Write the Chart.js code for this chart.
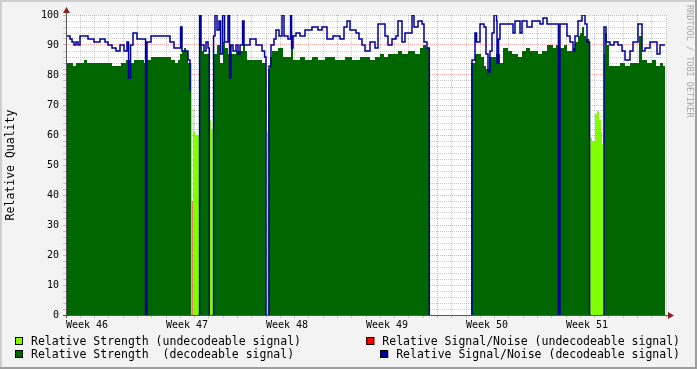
<!DOCTYPE html>
<html>
<head>
<meta charset="utf-8">
<script src="https://cdn.jsdelivr.net/npm/chart.js"></script>
<style>
html, body { margin: 0; padding: 0; background: #f3f3f3; overflow: hidden; }
canvas { display: block; }
</style>
</head>
<body>
<canvas id="chart" width="697" height="369"></canvas>
<script>
// ---------------- data (x = days since start of Week 46, y = relative quality %) ----------------
const weekLabels = ['Week 46', 'Week 47', 'Week 48', 'Week 49', 'Week 50', 'Week 51'];
const seriesNames = [
  'Relative Strength (undecodeable signal)',
  'Relative Signal/Noise (undecodeable signal)',
  'Relative Strength  (decodeable signal)',
  'Relative Signal/Noise (decodeable signal)'
];
const watermark = 'RRDTOOL / TOBI OETIKER';
const yTitle = 'Relative Quality';

// Relative Strength (decodeable signal) – step breakpoints (value holds until next day), null = no data
const strengthDecDay = [
  0, 0.49, 0.70, 1.26, 1.47, 3.22, 3.85, 4.20, 4.55, 4.76, 5.46, 5.67, 5.95, 7.35, 7.63, 7.84, 7.98, 8.12, 8.26, 8.40, 8.54, 8.79, 8.80,
  9.38, 9.52, 9.66, 10.01, 10.02,
  10.29, 10.57, 10.78, 10.99, 11.13, 11.34, 11.90, 12.39, 12.53, 12.67, 13.72, 14.00, 14.01,
  14.14, 14.28, 14.42, 14.84, 15.19, 15.75, 15.89, 16.38, 16.73, 17.22, 17.64, 18.13, 18.83, 19.53, 20.02, 20.58, 21.28, 21.63, 21.98, 22.26, 22.54, 23.24, 23.52, 23.94, 24.43, 24.78, 24.99, 25.20, 25.48, 25.49,
  28.35, 28.63, 29.05, 29.26, 29.40, 29.61, 30.10, 30.38, 30.59, 30.94, 31.22, 31.64, 31.92, 32.20, 32.48, 33.04, 33.32, 33.67, 34.09, 34.30, 34.58, 34.86, 35.07, 35.49, 35.63, 35.84, 35.98, 36.12, 36.26, 36.40, 36.65, 36.66,
  37.63, 37.73, 37.87, 38.01, 38.78, 39.13, 39.48, 40.11, 40.32, 40.67, 41.02, 41.30, 41.58, 41.79, 41.93
];
const strengthDecVal = [
  84, 83, 84, 85, 84, 83, 84, 85, 84, 85, 84, 85, 86, 85, 84, 85, 87, 88, 89, 88, 84, 84, null,
  90, 88, 87, 87, null,
  87, 90, 84, 91, 89, 87, 88, 90, 88, 85, 84, 84, null,
  82, 86, 88, 89, 86, 91, 85, 86, 85, 86, 85, 86, 85, 86, 85, 86, 85, 86, 87, 86, 87, 88, 87, 88, 87, 89, 90, 89, 89, null,
  84, 87, 86, 83, 82, 86, 87, 84, 89, 88, 87, 86, 88, 89, 88, 87, 88, 90, 89, 90, 89, 90, 88, 89, 91, 93, 94, 96, 93, 92, 92, null,
  87, 94, 90, 83, 84, 83, 84, 93, 85, 84, 85, 83, 84, 83, 83
];

// Relative Strength (undecodeable signal)
const strengthUndecDay = [8.86, 8.93, 9.07, 9.31, 9.32, 10.06, 10.15, 10.29, 10.30, 14.07, 14.18, 14.19, 36.68, 36.82, 37.03, 37.17, 37.31, 37.45, 37.52, 37.59];
const strengthUndecVal = [69, 61, 60, 60, null, 65, 62, 62, null, 61, 61, null, 59, 58, 67, 68, 65, 61, 57, 57];

// Relative Signal/Noise (undecodeable signal)
const snrUndecDay = [8.80, 8.87];
const snrUndecVal = [38, 38];

// Relative Signal/Noise (decodeable signal)
const snrDecDay = [
  0, 0.28, 0.42, 0.56, 0.70, 0.84, 0.98, 1.54, 1.96, 2.38, 2.73, 2.94, 3.22, 3.50, 3.78, 4.06, 4.27, 4.38, 4.52, 4.69, 4.97, 5.57, 5.67, 5.95, 7.28, 7.56, 8.02, 8.12, 8.54, 8.68, 8.75, 8.76,
  9.28, 9.35, 9.45, 9.66, 9.80, 9.94, 10.03, 10.08, 10.09,
  10.26, 10.33, 10.43, 10.57, 10.71, 10.82, 10.96, 11.10, 11.34, 11.45, 11.55, 11.69, 11.90, 12.04, 12.18, 12.36, 12.46, 12.88, 13.30, 13.72, 13.90, 14.00, 14.07, 14.08,
  14.14, 14.21, 14.35, 14.56, 14.70, 14.91, 15.12, 15.26, 15.54, 15.72, 15.79, 15.89, 16.10, 16.38, 16.73, 17.22, 17.64, 17.92, 18.27, 18.69, 19.18, 19.46, 19.67, 19.88, 20.30, 20.51, 20.72, 20.93, 21.28, 21.63, 21.84, 22.33, 22.54, 22.82, 23.10, 23.24, 23.52, 23.73, 24.22, 24.36, 24.64, 24.92, 25.06, 25.27, 25.43, 25.48, 25.49,
  28.35, 28.42, 28.63, 28.74, 28.98, 29.26, 29.40, 29.54, 29.68, 29.82, 29.96, 30.14, 30.17, 30.28, 30.38, 31.29, 31.43, 31.78, 31.92, 32.27, 32.62, 33.18, 33.39, 33.67, 34.47, 34.58, 35.07, 35.28, 35.49, 35.63, 35.84, 36.12, 36.33, 36.47, 36.65, 36.72, 36.73,
  37.59, 37.66, 37.80, 38.08, 38.36, 38.64, 38.92, 39.13, 39.48, 39.69, 40.04, 40.32, 40.53, 40.88, 41.37, 41.58, 41.93
];
const snrDecVal = [
  93, 92, 91, 90, 91, 90, 93, 92, 91, 92, 91, 90, 89, 88, 90, 88, 91, 79, 90, 94, 92, 0, 91, 93, 91, 89, 96, 88, 85, 75, 75, null,
  0, 100, 90, 88, 91, 89, 0, 0, null,
  0, 93, 100, 95, 98, 87, 100, 91, 100, 79, 90, 88, 90, 87, 90, 98, 90, 92, 90, 88, 86, 0, 0, null,
  0, 83, 90, 92, 95, 93, 100, 93, 92, 100, 89, 93, 94, 93, 95, 96, 95, 96, 92, 93, 92, 96, 98, 95, 94, 92, 90, 88, 91, 89, 97, 93, 90, 92, 93, 98, 91, 94, 100, 96, 98, 97, 91, 89, 0, 0, null,
  0, 85, 94, 91, 97, 96, 87, 81, 88, 94, 100, 98, 84, 92, 97, 94, 98, 94, 98, 96, 98, 97, 99, 97, 0, 97, 93, 91, 88, 93, 98, 100, 97, 91, 0, 0, null,
  0, 96, 91, 90, 91, 90, 88, 85, 88, 91, 97, 88, 89, 91, 87, 90, 90
];

// ---------------- styling ----------------
const FONT = '"DejaVu Sans Mono", monospace';
const COL = { lightGreen: '#80ff00', red: '#ff0000', darkGreen: '#006600', navy: '#000099' };
const GRID = 'rgba(128,128,128,0.42)';
const MGRID = 'rgba(222,48,48,0.42)';

const pts = (days, vals) => days.map((d, i) => ({ x: d, y: vals[i] }));

const rrdPlugin = {
  id: 'rrd',
  beforeDraw(chart) {
    const { ctx, chartArea: a, width, height } = chart;
    ctx.save();
    ctx.fillStyle = '#f3f3f3';
    ctx.fillRect(0, 0, width, height);
    ctx.fillStyle = '#cfcfcf';
    ctx.fillRect(0, 0, width, 2);
    ctx.fillRect(0, 0, 2, height);
    ctx.fillStyle = '#9e9e9e';
    ctx.fillRect(0, height - 2, width, 2);
    ctx.fillRect(width - 2, 0, 2, height);
    ctx.fillStyle = '#ffffff';
    ctx.fillRect(a.left, a.top, a.right - a.left, a.bottom - a.top);
    ctx.restore();
  },
  afterDraw(chart) {
    const { ctx, chartArea: a } = chart;
    ctx.save();
    // axes
    ctx.strokeStyle = '#555555';
    ctx.lineWidth = 1;
    ctx.beginPath();
    ctx.moveTo(a.left + 0.5, a.bottom + 3);
    ctx.lineTo(a.left + 0.5, a.top - 6);
    ctx.moveTo(a.left - 3, a.bottom + 0.5);
    ctx.lineTo(a.right + 4, a.bottom + 0.5);
    ctx.stroke();
    // arrows
    ctx.fillStyle = '#8e2020';
    ctx.beginPath();
    ctx.moveTo(a.left + 0.5, a.top - 8);
    ctx.lineTo(a.left - 3, a.top - 2);
    ctx.lineTo(a.left + 4, a.top - 2);
    ctx.closePath();
    ctx.fill();
    ctx.beginPath();
    ctx.moveTo(a.right + 8, a.bottom + 0.5);
    ctx.lineTo(a.right + 2, a.bottom - 3);
    ctx.lineTo(a.right + 2, a.bottom + 4);
    ctx.closePath();
    ctx.fill();

    // legend
    ctx.font = '11.5px ' + FONT;
    ctx.textBaseline = 'alphabetic';
    ctx.fillStyle = '#000';
    const rows = [345, 358];
    const items = [
      { name: seriesNames[0], color: COL.lightGreen, col: 0, row: 0 },
      { name: seriesNames[1], color: COL.red, col: 1, row: 0 },
      { name: seriesNames[2], color: COL.darkGreen, col: 0, row: 1 },
      { name: seriesNames[3], color: COL.navy, col: 1, row: 1 }
    ];
    items.forEach(it => {
      const w = ctx.measureText(it.name).width;
      const tx = it.col === 0 ? 31 : 680 - w;
      const by = rows[it.row] - 8;
      const bx = tx - 16;
      ctx.fillStyle = it.color;
      ctx.fillRect(bx, by, 8, 8);
      ctx.strokeStyle = '#000';
      ctx.lineWidth = 1;
      ctx.strokeRect(bx + 0.5, by + 0.5, 7, 7);
      ctx.fillStyle = '#000';
      ctx.textAlign = 'left';
      ctx.fillText(it.name, tx, rows[it.row]);
    });

    // watermark
    ctx.translate(689, 5);
    ctx.rotate(Math.PI / 2);
    ctx.font = '8.5px ' + FONT;
    ctx.fillStyle = '#a8a8a8';
    ctx.textAlign = 'left';
    ctx.textBaseline = 'middle';
    ctx.fillText(watermark, 0, 0);
    ctx.restore();
  }
};

Chart.defaults.font.family = FONT;
Chart.defaults.color = '#000';

new Chart(document.getElementById('chart'), {
  type: 'line',
  data: {
    datasets: [
      { label: seriesNames[3], data: pts(snrDecDay, snrDecVal), stepped: 'before', fill: false,
        borderColor: COL.navy, borderWidth: 1.5, pointRadius: 0, order: 0 },
      { label: seriesNames[1], data: pts(snrUndecDay, snrUndecVal), stepped: 'before', fill: 'origin',
        backgroundColor: COL.red, borderColor: 'rgba(0,0,0,0)', borderWidth: 0, pointRadius: 0, order: 1 },
      { label: seriesNames[0], data: pts(strengthUndecDay, strengthUndecVal), stepped: 'before', fill: 'origin',
        backgroundColor: COL.lightGreen, borderColor: 'rgba(0,0,0,0)', borderWidth: 0, pointRadius: 0, order: 2 },
      { label: seriesNames[2], data: pts(strengthDecDay, strengthDecVal), stepped: 'before', fill: 'origin',
        backgroundColor: COL.darkGreen, borderColor: 'rgba(0,0,0,0)', borderWidth: 0, pointRadius: 0, order: 3 }
    ]
  },
  options: {
    responsive: false,
    animation: false,
    devicePixelRatio: 1,
    events: [],
    spanGaps: false,
    layout: { padding: { left: 0, top: 15, right: 31, bottom: 34 } },
    plugins: { legend: { display: false }, tooltip: { enabled: false } },
    scales: {
      x: {
        type: 'linear', min: 0, max: 42, z: 1,
        afterFit: s => { s.height = 20; },
        border: { display: false, dash: [1, 1] },
        grid: {
          color: c => (Math.round(c.tick.value) % 7 === 5 ? MGRID : GRID),
          tickLength: 3, lineWidth: 1
        },
        ticks: {
          stepSize: 1, autoSkip: false, maxRotation: 0, minRotation: 0, align: 'start', padding: 1,
          font: { size: 10, family: FONT },
          callback: v => {
            const d = Math.round(v);
            return (d % 7 === 0 && d / 7 < weekLabels.length) ? weekLabels[d / 7] : '';
          }
        }
      },
      y: {
        min: 0, max: 100, z: 1,
        afterFit: s => { s.width = 66; },
        border: { display: false, dash: [1, 1] },
        grid: {
          color: c => (Math.round(c.tick.value) % 10 === 0 ? MGRID : GRID),
          tickLength: 3, lineWidth: 1
        },
        ticks: {
          stepSize: 2, autoSkip: false, padding: 4,
          font: { size: 10, family: FONT },
          callback: v => (Math.round(v) % 10 === 0 ? String(Math.round(v)) : '')
        },
        title: { display: true, text: yTitle, font: { size: 11.5, family: FONT }, padding: { top: 4.5, bottom: 0 } }
      }
    }
  },
  plugins: [rrdPlugin]
});
</script>
</body>
</html>
